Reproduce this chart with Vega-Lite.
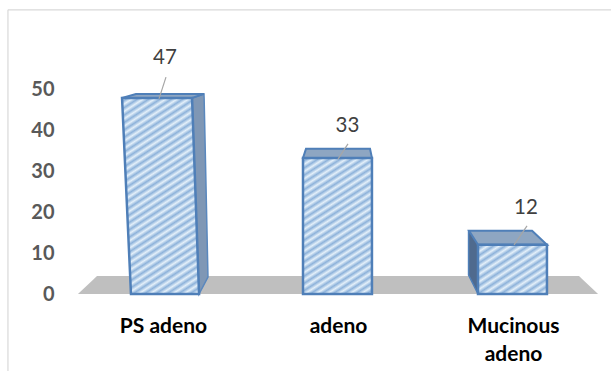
{"$schema":"https://vega.github.io/schema/vega-lite/v6.json","width":525,"height":205,"autosize":{"type":"none"},"padding":{"left":75.5,"top":89,"right":10.5,"bottom":77},"background":"white","config":{"view":{"stroke":null},"font":"Lato"},
"data":{"values":[
{"part":"borderTop","x":0.114,"x2":3.56,"y":69.3,"y2":69.3},
{"part":"borderLeft","x":0.114,"x2":0.114,"y":69.3,"y2":-18.8},
{"part":"floor","x":0.623,"x2":3.377,"y":4.4},{"part":"floor","x":0.514,"x2":3.486,"y":0},
{"part":"side1","x":1.234,"x2":1.234,"y":48.8},{"part":"side1","x":1.166,"x2":1.235,"y":47.8},{"part":"side1","x":1.202,"x2":1.257,"y":4.1},{"part":"side1","x":1.206,"x2":1.206,"y":0},
{"part":"top1","x":0.846,"x2":1.234,"y":48.8},{"part":"top1","x":0.766,"x2":1.166,"y":47.8},
{"part":"top2","x":1.817,"x2":2.183,"y":35.4},{"part":"top2","x":1.8,"x2":2.194,"y":33.2},
{"part":"top3","x":2.749,"x2":3.109,"y":15.4},{"part":"top3","x":2.8,"x2":3.194,"y":12},
{"part":"side3","x":2.746,"x2":2.8,"y":15.4},{"part":"side3","x":2.746,"x2":2.8,"y":4.6},{"part":"side3","x":2.8,"x2":2.8,"y":0},
{"part":"front1","x":0.766,"x2":1.166,"y":47.8},{"part":"front1","x":0.817,"x2":1.206,"y":0},
{"part":"front2","x":1.8,"x2":2.194,"y":33.2},{"part":"front2","x":1.8,"x2":2.194,"y":0},
{"part":"front3","x":2.8,"x2":3.194,"y":12},{"part":"front3","x":2.8,"x2":3.194,"y":0},
{"part":"leader","x":0.977,"x2":1.017,"y":47.6,"y2":52.9},{"part":"leader","x":2,"x2":2.057,"y":32.9,"y2":36.6},{"part":"leader","x":3.006,"x2":3.08,"y":12,"y2":16.6},
{"part":"label","x":1.011,"y":57.6,"value":47},{"part":"label","x":2.054,"y":41,"value":33},{"part":"label","x":3.074,"y":21,"value":12}
]},
"encoding":{
"x":{"field":"x","type":"quantitative","scale":{"domain":[0.5,3.5],"nice":false,"zero":false},"axis":{"title":null,"values":[1,2,3],"grid":false,"domain":false,"ticks":false,"labelPadding":21,"labelFontSize":21,"labelFontWeight":"bold","labelColor":"#000000","labelFont":"Lato","labelLineHeight":28,"labelBaseline":"top","labelExpr":"datum.value==1?'PS adeno':datum.value==2?'adeno':['Mucinous','adeno']"}},
"y":{"field":"y","type":"quantitative","scale":{"domain":[0,50],"nice":false},"axis":{"title":null,"values":[0,10,20,30,40,50],"grid":false,"domain":false,"ticks":false,"labelPadding":21.5,"labelFontSize":20,"labelFontWeight":"bold","labelColor":"#595959","labelFont":"Lato","labelExpr":"datum.value==50?'50\u00a0\u00a0\u00a0':datum.value==40?'40\u00a0\u00a0':datum.value>=20?datum.value+'\u00a0':''+datum.value"}}
},
"layer":[
{"transform":[{"filter":"datum.part=='borderTop'||datum.part=='borderLeft'"}],"mark":{"type":"rule","color":"#D9D9D9","strokeWidth":1.2},"encoding":{"x2":{"field":"x2"},"y2":{"field":"y2"},"detail":{"field":"part"}}},
{"transform":[{"filter":"datum.part=='floor'"}],"mark":{"type":"area","orient":"horizontal","color":"#BFBFBF"},"encoding":{"x2":{"field":"x2"}}},
{"transform":[{"filter":"datum.part=='side1'"}],"mark":{"type":"area","orient":"horizontal","fill":"#7F97B5","stroke":"#5A88BE","strokeWidth":1.5},"encoding":{"x2":{"field":"x2"}}},
{"transform":[{"filter":"datum.part=='side3'"}],"mark":{"type":"area","orient":"horizontal","fill":"#4F6A8E","stroke":"#4F7FB8","strokeWidth":1.5},"encoding":{"x2":{"field":"x2"}}},
{"transform":[{"filter":"datum.part=='top1'"}],"mark":{"type":"area","orient":"horizontal","fill":"#8EA6C2","stroke":"#4F7FB8","strokeWidth":2},"encoding":{"x2":{"field":"x2"}}},
{"transform":[{"filter":"datum.part=='top2'"}],"mark":{"type":"area","orient":"horizontal","fill":"#8EA6C2","stroke":"#4F7FB8","strokeWidth":2},"encoding":{"x2":{"field":"x2"}}},
{"transform":[{"filter":"datum.part=='top3'"}],"mark":{"type":"area","orient":"horizontal","fill":"#8EA6C2","stroke":"#4F7FB8","strokeWidth":2},"encoding":{"x2":{"field":"x2"}}},
{"transform":[{"filter":"datum.part=='front1'"}],"mark":{"type":"area","orient":"horizontal","stroke":"#4F7FB8","strokeWidth":2.5,"fill":{"gradient":"linear","x1":0,"y1":0,"x2":0.301,"y2":1.178,"stops":[
{"offset":0,"color":"#E4F0FA"},{"offset":0.015,"color":"#8DB2DA"},{"offset":0.03,"color":"#E4F0FA"},{"offset":0.045,"color":"#8DB2DA"},{"offset":0.06,"color":"#E4F0FA"},{"offset":0.075,"color":"#8DB2DA"},{"offset":0.09,"color":"#E4F0FA"},{"offset":0.105,"color":"#8DB2DA"},{"offset":0.12,"color":"#E4F0FA"},{"offset":0.135,"color":"#8DB2DA"},{"offset":0.15,"color":"#E4F0FA"},{"offset":0.165,"color":"#8DB2DA"},{"offset":0.18,"color":"#E4F0FA"},{"offset":0.195,"color":"#8DB2DA"},{"offset":0.21,"color":"#E4F0FA"},{"offset":0.225,"color":"#8DB2DA"},{"offset":0.24,"color":"#E4F0FA"},{"offset":0.255,"color":"#8DB2DA"},{"offset":0.27,"color":"#E4F0FA"},{"offset":0.285,"color":"#8DB2DA"},{"offset":0.3,"color":"#E4F0FA"},{"offset":0.315,"color":"#8DB2DA"},{"offset":0.33,"color":"#E4F0FA"},{"offset":0.345,"color":"#8DB2DA"},{"offset":0.36,"color":"#E4F0FA"},{"offset":0.375,"color":"#8DB2DA"},{"offset":0.39,"color":"#E4F0FA"},{"offset":0.405,"color":"#8DB2DA"},{"offset":0.42,"color":"#E4F0FA"},{"offset":0.435,"color":"#8DB2DA"},{"offset":0.45,"color":"#E4F0FA"},{"offset":0.465,"color":"#8DB2DA"},{"offset":0.48,"color":"#E4F0FA"},{"offset":0.495,"color":"#8DB2DA"},{"offset":0.51,"color":"#E4F0FA"},{"offset":0.525,"color":"#8DB2DA"},{"offset":0.54,"color":"#E4F0FA"},{"offset":0.555,"color":"#8DB2DA"},{"offset":0.57,"color":"#E4F0FA"},{"offset":0.585,"color":"#8DB2DA"},{"offset":0.6,"color":"#E4F0FA"},{"offset":0.615,"color":"#8DB2DA"},{"offset":0.63,"color":"#E4F0FA"},{"offset":0.645,"color":"#8DB2DA"},{"offset":0.66,"color":"#E4F0FA"},{"offset":0.675,"color":"#8DB2DA"},{"offset":0.69,"color":"#E4F0FA"},{"offset":0.705,"color":"#8DB2DA"},{"offset":0.72,"color":"#E4F0FA"},{"offset":0.735,"color":"#8DB2DA"},{"offset":0.75,"color":"#E4F0FA"},{"offset":0.765,"color":"#8DB2DA"},{"offset":0.78,"color":"#E4F0FA"},{"offset":0.795,"color":"#8DB2DA"},{"offset":0.81,"color":"#E4F0FA"},{"offset":0.825,"color":"#8DB2DA"},{"offset":0.84,"color":"#E4F0FA"},{"offset":0.855,"color":"#8DB2DA"},{"offset":0.87,"color":"#E4F0FA"},{"offset":0.885,"color":"#8DB2DA"},{"offset":0.9,"color":"#E4F0FA"},{"offset":0.915,"color":"#8DB2DA"},{"offset":0.93,"color":"#E4F0FA"},{"offset":0.945,"color":"#8DB2DA"},{"offset":0.96,"color":"#E4F0FA"},{"offset":0.975,"color":"#8DB2DA"},{"offset":0.99,"color":"#E4F0FA"},{"offset":1,"color":"#8DB2DA"}]}},"encoding":{"x2":{"field":"x2"}}},
{"transform":[{"filter":"datum.part=='front2'"}],"mark":{"type":"area","orient":"horizontal","stroke":"#4F7FB8","strokeWidth":2.5,"fill":{"gradient":"linear","x1":0,"y1":0,"x2":0.389,"y2":1.198,"stops":[
{"offset":0,"color":"#E4F0FA"},{"offset":0.02,"color":"#8DB2DA"},{"offset":0.04,"color":"#E4F0FA"},{"offset":0.06,"color":"#8DB2DA"},{"offset":0.08,"color":"#E4F0FA"},{"offset":0.1,"color":"#8DB2DA"},{"offset":0.12,"color":"#E4F0FA"},{"offset":0.14,"color":"#8DB2DA"},{"offset":0.16,"color":"#E4F0FA"},{"offset":0.18,"color":"#8DB2DA"},{"offset":0.2,"color":"#E4F0FA"},{"offset":0.22,"color":"#8DB2DA"},{"offset":0.24,"color":"#E4F0FA"},{"offset":0.26,"color":"#8DB2DA"},{"offset":0.28,"color":"#E4F0FA"},{"offset":0.3,"color":"#8DB2DA"},{"offset":0.32,"color":"#E4F0FA"},{"offset":0.34,"color":"#8DB2DA"},{"offset":0.36,"color":"#E4F0FA"},{"offset":0.38,"color":"#8DB2DA"},{"offset":0.4,"color":"#E4F0FA"},{"offset":0.42,"color":"#8DB2DA"},{"offset":0.44,"color":"#E4F0FA"},{"offset":0.46,"color":"#8DB2DA"},{"offset":0.48,"color":"#E4F0FA"},{"offset":0.5,"color":"#8DB2DA"},{"offset":0.52,"color":"#E4F0FA"},{"offset":0.54,"color":"#8DB2DA"},{"offset":0.56,"color":"#E4F0FA"},{"offset":0.58,"color":"#8DB2DA"},{"offset":0.6,"color":"#E4F0FA"},{"offset":0.62,"color":"#8DB2DA"},{"offset":0.64,"color":"#E4F0FA"},{"offset":0.66,"color":"#8DB2DA"},{"offset":0.68,"color":"#E4F0FA"},{"offset":0.7,"color":"#8DB2DA"},{"offset":0.72,"color":"#E4F0FA"},{"offset":0.74,"color":"#8DB2DA"},{"offset":0.76,"color":"#E4F0FA"},{"offset":0.78,"color":"#8DB2DA"},{"offset":0.8,"color":"#E4F0FA"},{"offset":0.82,"color":"#8DB2DA"},{"offset":0.84,"color":"#E4F0FA"},{"offset":0.86,"color":"#8DB2DA"},{"offset":0.88,"color":"#E4F0FA"},{"offset":0.9,"color":"#8DB2DA"},{"offset":0.92,"color":"#E4F0FA"},{"offset":0.94,"color":"#8DB2DA"},{"offset":0.96,"color":"#E4F0FA"},{"offset":0.98,"color":"#8DB2DA"},{"offset":1,"color":"#E4F0FA"}]}},"encoding":{"x2":{"field":"x2"}}},
{"transform":[{"filter":"datum.part=='front3'"}],"mark":{"type":"area","orient":"horizontal","stroke":"#4F7FB8","strokeWidth":2.5,"fill":{"gradient":"linear","x1":0,"y1":0,"x2":0.953,"y2":1.042,"stops":[
{"offset":0,"color":"#E4F0FA"},{"offset":0.04,"color":"#8DB2DA"},{"offset":0.08,"color":"#E4F0FA"},{"offset":0.12,"color":"#8DB2DA"},{"offset":0.16,"color":"#E4F0FA"},{"offset":0.2,"color":"#8DB2DA"},{"offset":0.24,"color":"#E4F0FA"},{"offset":0.28,"color":"#8DB2DA"},{"offset":0.32,"color":"#E4F0FA"},{"offset":0.36,"color":"#8DB2DA"},{"offset":0.4,"color":"#E4F0FA"},{"offset":0.44,"color":"#8DB2DA"},{"offset":0.48,"color":"#E4F0FA"},{"offset":0.52,"color":"#8DB2DA"},{"offset":0.56,"color":"#E4F0FA"},{"offset":0.6,"color":"#8DB2DA"},{"offset":0.64,"color":"#E4F0FA"},{"offset":0.68,"color":"#8DB2DA"},{"offset":0.72,"color":"#E4F0FA"},{"offset":0.76,"color":"#8DB2DA"},{"offset":0.8,"color":"#E4F0FA"},{"offset":0.84,"color":"#8DB2DA"},{"offset":0.88,"color":"#E4F0FA"},{"offset":0.92,"color":"#8DB2DA"},{"offset":0.96,"color":"#E4F0FA"},{"offset":1,"color":"#8DB2DA"}]}},"encoding":{"x2":{"field":"x2"}}},
{"transform":[{"filter":"datum.part=='leader'"}],"mark":{"type":"rule","color":"#A6A6A6","strokeWidth":1.2},"encoding":{"x2":{"field":"x2"},"y2":{"field":"y2"}}},
{"transform":[{"filter":"datum.part=='label'"}],"mark":{"type":"text","fontSize":20.5,"color":"#404040","font":"Lato","baseline":"middle","align":"center"},"encoding":{"text":{"field":"value","type":"quantitative"}}}
]}
